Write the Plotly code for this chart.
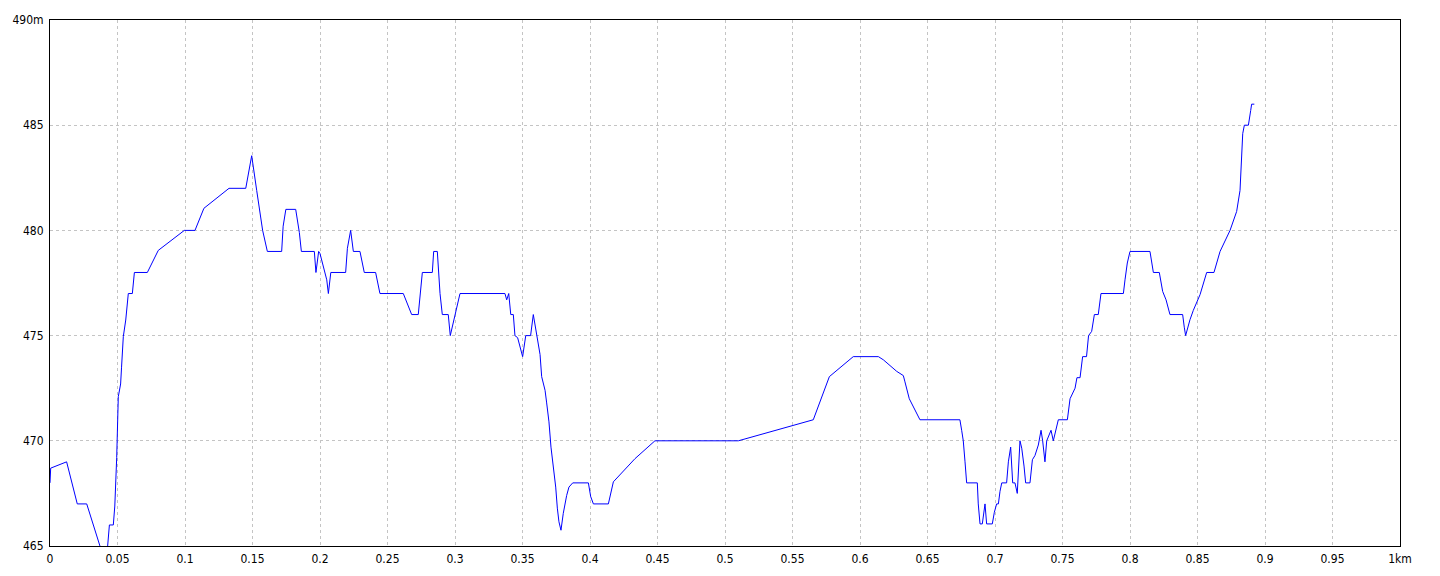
import plotly.graph_objects as go

distance_km = [
    0.000, 0.0005, 0.0123, 0.0202, 0.0272, 0.037, 0.040, 0.0427, 0.044, 0.0469,
    0.048, 0.0494, 0.0506, 0.0523, 0.053, 0.0543, 0.0561, 0.0575, 0.058, 0.061,
    0.0625, 0.0721, 0.0802, 0.0995, 0.1074, 0.114, 0.1326, 0.145, 0.1494, 0.1531,
    0.1575, 0.161, 0.1716, 0.1727, 0.1747, 0.182, 0.1835, 0.1847, 0.1862, 0.1958,
    0.197, 0.199, 0.200, 0.202, 0.205, 0.2062, 0.208, 0.219, 0.2203, 0.2227,
    0.2247, 0.2296, 0.2328, 0.2412, 0.2444, 0.2617, 0.2679, 0.2728, 0.2758, 0.2832,
    0.2842, 0.2869, 0.2889, 0.2906, 0.295, 0.2965, 0.300, 0.3037, 0.337, 0.3383,
    0.3398, 0.3413, 0.3432, 0.3444, 0.3464, 0.3501, 0.3524, 0.356, 0.358, 0.3605,
    0.363, 0.3642, 0.3667, 0.3679, 0.3696, 0.3711, 0.3728, 0.3746, 0.3758, 0.377,
    0.3785, 0.3802, 0.3827, 0.3844, 0.3872, 0.3988, 0.4005, 0.4025, 0.4136, 0.4173,
    0.4333, 0.4481, 0.5099, 0.5654, 0.5773, 0.595, 0.6136, 0.6173, 0.6272, 0.6321,
    0.6333, 0.6365, 0.6444, 0.674, 0.6753, 0.6765, 0.6778, 0.679, 0.6869, 0.6876,
    0.6889, 0.6906, 0.6926, 0.6938, 0.698, 0.6995, 0.7012, 0.7025, 0.7037, 0.705,
    0.7086, 0.7099, 0.7116, 0.7124, 0.7131, 0.7148, 0.7165, 0.7185, 0.7198, 0.7215,
    0.7227, 0.7259, 0.7277, 0.7296, 0.7321, 0.7341, 0.7353, 0.737, 0.7383, 0.7415,
    0.7432, 0.7469, 0.7536, 0.7556, 0.7593, 0.7607, 0.7630, 0.7649, 0.7678, 0.7693,
    0.7716, 0.7736, 0.7765, 0.7785, 0.7951, 0.7963, 0.798, 0.800, 0.8148, 0.8173,
    0.8217, 0.8242, 0.8267, 0.8296, 0.839, 0.8402, 0.8412, 0.8444, 0.8469, 0.8519,
    0.8568, 0.8622, 0.8667, 0.8741, 0.879, 0.8815, 0.8827, 0.8835, 0.8847, 0.8877,
    0.8894, 0.8901, 0.8921,
]

elevation_m = [
    468.0, 468.7, 469.0, 467.0, 467.0, 465.0, 464.6, 465.0, 466.0, 466.0,
    466.9, 469.2, 472.1, 472.7, 473.5, 474.95, 475.74, 476.7, 477.0, 477.0,
    478.0, 478.0, 479.05, 480.0, 480.0, 481.05, 482.0, 482.0, 483.55, 481.9,
    480.0, 479.0, 479.0, 480.2, 481.0, 481.0, 480.4, 479.9, 479.0, 479.0,
    478.0, 479.0, 478.9, 478.35, 477.65, 477.0, 478.0, 478.0, 479.15, 480.0,
    479.0, 479.0, 478.0, 478.0, 477.0, 477.0, 476.0, 476.0, 478.0, 478.0,
    479.0, 479.0, 477.0, 476.0, 476.0, 475.0, 476.05, 477.0, 477.0, 476.7,
    477.0, 476.0, 476.0, 475.0, 474.9, 474.0, 475.0, 475.0, 476.0, 475.0,
    474.1, 473.05, 472.4, 471.8, 470.9, 469.7, 468.8, 467.8, 466.8, 466.15,
    465.75, 466.55, 467.4, 467.8, 468.0, 468.0, 467.35, 467.0, 467.0, 468.05,
    469.15, 470.0, 470.0, 471.0, 473.05, 474.0, 474.0, 473.85, 473.3, 473.1,
    472.8, 472.0, 471.0, 471.0, 470.5, 470.0, 469.0, 468.0, 468.0, 467.0,
    466.05, 466.05, 467.0, 466.05, 466.05, 466.6, 467.0, 467.0, 467.6, 468.0,
    468.0, 469.0, 469.7, 468.45, 468.0, 468.0, 467.5, 470.0, 469.65, 468.8,
    468.0, 468.0, 469.1, 469.3, 469.8, 470.5, 470.0, 469.0, 470.0, 470.5,
    470.0, 471.0, 471.0, 472.0, 472.5, 473.0, 473.0, 474.0, 474.0, 475.0,
    475.2, 476.0, 476.0, 477.0, 477.0, 477.65, 478.45, 479.0, 479.0, 478.0,
    478.0, 477.1, 476.7, 476.0, 476.0, 475.4, 475.0, 475.75, 476.2, 476.95,
    478.0, 478.0, 479.0, 480.0, 480.9, 481.9, 483.3, 484.6, 485.0, 485.0,
    485.7, 486.0, 486.0,
]

x_tick_vals = [0, 0.05, 0.1, 0.15, 0.2, 0.25, 0.3, 0.35, 0.4, 0.45, 0.5,
               0.55, 0.6, 0.65, 0.7, 0.75, 0.8, 0.85, 0.9, 0.95, 1.0]
x_tick_text = ["0", "0.05", "0.1", "0.15", "0.2", "0.25", "0.3", "0.35", "0.4", "0.45", "0.5",
               "0.55", "0.6", "0.65", "0.7", "0.75", "0.8", "0.85", "0.9", "0.95", "1km"]
y_tick_vals = [465, 470, 475, 480, 485, 490]
y_tick_text = ["465", "470", "475", "480", "485", "490m"]

fig = go.Figure()
fig.add_trace(go.Scatter(
    x=distance_km, y=elevation_m, mode="lines",
    line=dict(color="#0000ff", width=1),
    hoverinfo="x+y", showlegend=False,
))

font_family = "Liberation Sans Narrow, DejaVu Sans Condensed, Liberation Sans, Arial, sans-serif"

fig.update_layout(
    width=1432, height=568,
    margin=dict(l=42, r=40, t=12, b=30),
    paper_bgcolor="white", plot_bgcolor="white",
    font=dict(family=font_family, size=12, color="black"),
    xaxis=dict(
        range=[0, 1], tickvals=x_tick_vals, ticktext=x_tick_text,
        showgrid=True, gridcolor="#c4c4c4", griddash="3px,3px", gridwidth=1,
        showline=True, linecolor="black", linewidth=1, mirror=True,
        ticks="", zeroline=False, fixedrange=True, ticklabelstandoff=2,
        automargin=False,
    ),
    yaxis=dict(
        range=[465, 490], tickvals=y_tick_vals, ticktext=y_tick_text,
        showgrid=True, gridcolor="#c4c4c4", griddash="3px,3px", gridwidth=1,
        showline=True, linecolor="black", linewidth=1, mirror=True,
        ticks="", zeroline=False, fixedrange=True, ticklabelstandoff=3,
        automargin=False,
    ),
)

fig.write_html("out.html")
